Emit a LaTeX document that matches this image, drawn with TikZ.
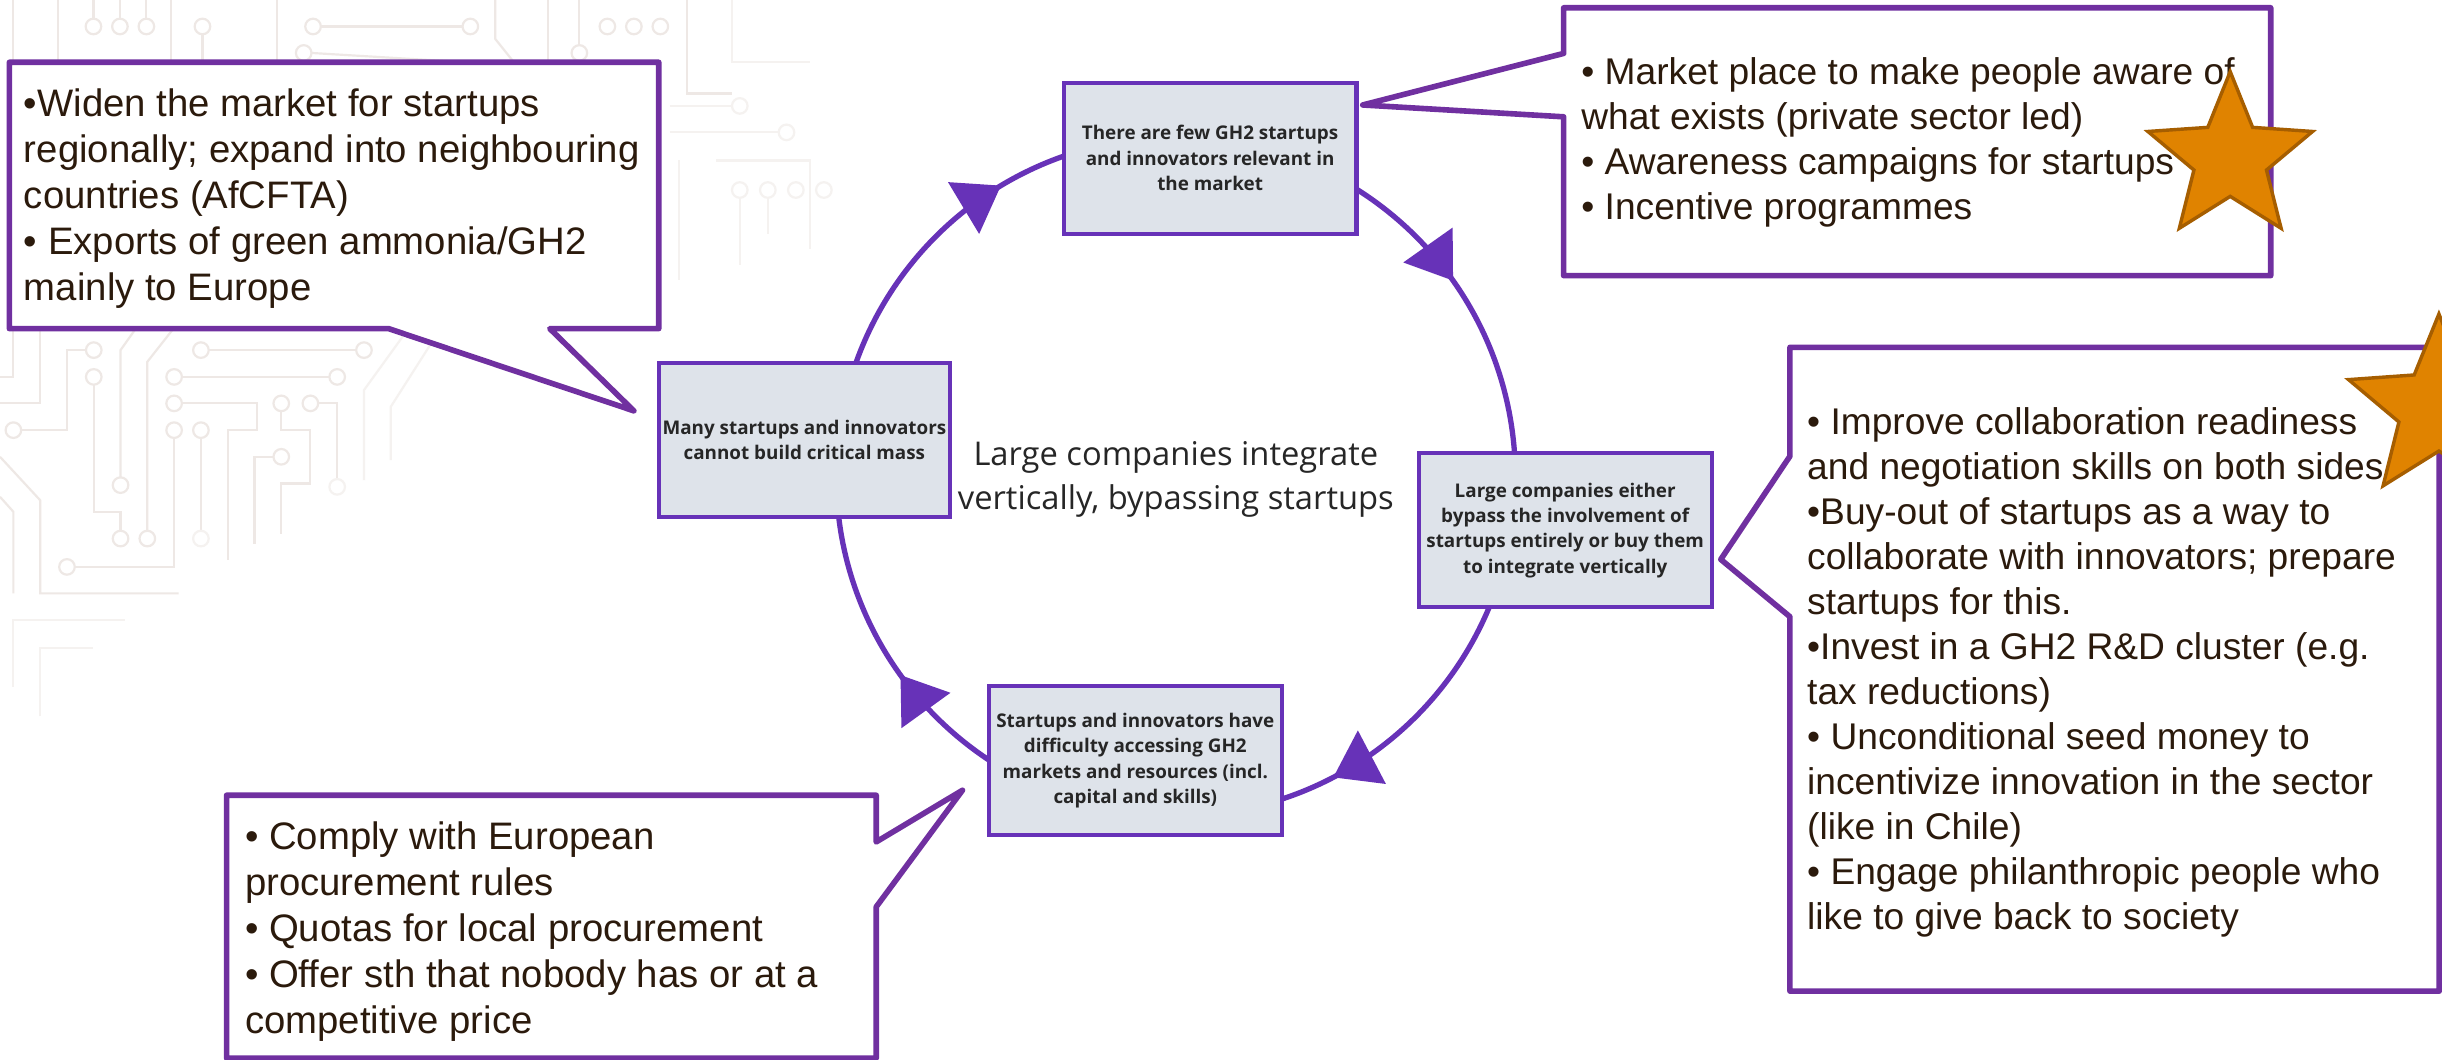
\documentclass[tikz,border=0pt]{standalone}
\usepackage{fontspec}
\setmainfont{Liberation Sans}
\newfontfamily\osans{Open Sans}
\usetikzlibrary{arrows.meta,decorations.markings,calc}
\pgfdeclarelayer{bg}
\pgfsetlayers{bg,main}
\definecolor{cpurple}{HTML}{7030A0}
\definecolor{npurple}{HTML}{6732B8}
\definecolor{nfill}{HTML}{DEE3EA}
\definecolor{txtbrown}{HTML}{2B1A0C}
\definecolor{txtgray}{HTML}{262626}
\definecolor{starfill}{HTML}{E08300}
\definecolor{stardraw}{HTML}{A65E00}
\definecolor{tracec}{HTML}{EEE8E5}
\definecolor{tracef}{HTML}{F5F2F0}
\tikzset{
  problem/.style={draw=npurple, line width=1.3pt, fill=nfill, inner sep=0pt, align=center,
    text=txtgray, font=\osans\bfseries\fontsize{6.05}{8.15}\selectfont},
  callout/.style={draw=cpurple, line width=1.8pt, line join=round, fill=white},
  calltext/.style={anchor=west, inner sep=0pt, align=left, text=txtbrown,
    font=\fontsize{11.93}{14.45}\selectfont},
  bigcalltext/.style={calltext, font=\fontsize{12.3}{14.8}\selectfont},
  cycarc/.style={draw=npurple, line width=1.7pt},
  cyctip/.tip={Triangle[length=14pt,width=19pt]},
  starshape/.style={fill=starfill, draw=stardraw, line width=1.1pt, line join=miter},
  trace/.style={draw=tracec, line width=0.7pt},
  ftrace/.style={draw=tracef, line width=0.7pt},
  pad/.style={draw=tracec, line width=0.7pt, fill=white},
  fpad/.style={draw=tracef, line width=0.7pt, fill=white},
}
\begin{document}
\begin{tikzpicture}[x=0.5pt,y=-0.5pt]
\path[use as bounding box] (0,0) rectangle (1568,680.6);

% ---------- background: faint circuit pattern + cycle arcs ----------
\begin{pgfonlayer}{bg}
\fill[white] (0,0) rectangle (1568,680.6);
% top strip
\draw[trace] (8.6,0) -- (8.6,40);
\draw[trace] (37,0) -- (37,40);
\draw[trace] (60,12) -- (60,0); \draw[trace] (77,12) -- (77,0); \draw[trace] (94,12) -- (94,0);
\draw[pad] (60,17) circle[radius=5]; \draw[pad] (77,17) circle[radius=5]; \draw[pad] (94,17) circle[radius=5];
\draw[trace] (110,0) -- (110,40);
\draw[trace] (130,22) -- (130,40); \draw[pad] (130,17) circle[radius=5];
\draw[trace] (178,0) -- (178,40);
\draw[trace] (206,17) -- (297,17); \draw[pad] (201,17) circle[radius=5]; \draw[pad] (302,17) circle[radius=5];
\draw[trace] (200,34) -- (300,40); \draw[pad] (195,34) circle[radius=5];
\draw[trace] (318,0) -- (318,25) -- (330,40);
\draw[trace] (352,0) -- (352,40);
\draw[trace] (372,0) -- (372,29); \draw[pad] (372,34) circle[radius=5];
\draw[pad] (390,17) circle[radius=5]; \draw[pad] (407,17) circle[radius=5]; \draw[pad] (424,17) circle[radius=5];
\draw[trace] (441,0) -- (441,60) -- (470,60);
\draw[ftrace] (470,0) -- (470,40) -- (520,40);
\draw[ftrace] (430,85) -- (500,85); \draw[fpad] (505,85) circle[radius=5];
\draw[ftrace] (430,68) -- (470,68); \draw[fpad] (475,68) circle[radius=5];
\draw[ftrace] (436,103) -- (436,180);
\draw[ftrace] (460,103) -- (520,103) -- (520,160);
\draw[fpad] (475,122) circle[radius=5]; \draw[fpad] (493,122) circle[radius=5];
\draw[fpad] (511,122) circle[radius=5]; \draw[fpad] (529,122) circle[radius=5];
\draw[ftrace] (475,127) -- (475,170); \draw[ftrace] (493,127) -- (493,150);
% middle-left
\draw[trace] (8.6,150) -- (8.6,242) -- (0,242);
\draw[trace] (25.8,150) -- (25.8,259) -- (0,259);
\draw[trace] (55,224.8) -- (43,224.8) -- (43,276.2) -- (13.6,276.2);
\draw[pad] (60.2,224.8) circle[radius=5]; \draw[pad] (8.6,276.2) circle[radius=5];
\draw[trace] (60.2,247) -- (60.2,328.6) -- (77.4,328.6) -- (77.4,340.8);
\draw[pad] (60.2,242) circle[radius=5]; \draw[pad] (77.4,345.8) circle[radius=5];
\draw[trace] (77.4,306.5) -- (77.4,224.8) -- (95,200);
\draw[pad] (77.4,311.5) circle[radius=5];
\draw[trace] (134,224.8) -- (228.7,224.8);
\draw[pad] (129,224.8) circle[radius=5]; \draw[pad] (233.7,224.8) circle[radius=5];
\draw[trace] (116.8,242) -- (211.5,242);
\draw[pad] (111.8,242) circle[radius=5]; \draw[pad] (216.5,242) circle[radius=5];
\draw[trace] (116.8,259) -- (164.9,259) -- (164.9,276.2) -- (146.2,276.2) -- (146.2,359.7);
\draw[pad] (111.8,259) circle[radius=5];
\draw[trace] (111.8,281.2) -- (111.8,364) -- (48,364);
\draw[pad] (111.8,276.2) circle[radius=5]; \draw[pad] (43,364) circle[radius=5];
\draw[trace] (129,281.2) -- (129,340.8);
\draw[pad] (129,276.2) circle[radius=5]; \draw[ftrace] (129,345.8) circle[radius=5];
\draw[trace] (180.6,264) -- (180.6,276.2) -- (199.3,276.2) -- (199.3,310.5) -- (180.6,310.5) -- (180.6,342.6);
\draw[pad] (180.6,259) circle[radius=5];
\draw[trace] (204.3,259) -- (216.5,259) -- (216.5,307.6);
\draw[pad] (199.3,259) circle[radius=5]; \draw[fpad] (216.5,312.6) circle[radius=5];
\draw[trace] (175.6,293.3) -- (163.4,293.3) -- (163.4,349);
\draw[pad] (180.6,293.3) circle[radius=5];
\draw[trace] (94.6,340.8) -- (94.6,232.3) -- (116.1,205);
\draw[pad] (94.6,345.8) circle[radius=5];
\draw[ftrace] (233.7,308.3) -- (233.7,250.5) -- (266.6,205);
\draw[ftrace] (250.9,295.5) -- (250.9,261.2) -- (286.7,205);
\draw[trace] (0,293.3) -- (25.8,321.2) -- (25.8,381) -- (114.7,381);
\draw[trace] (0,319) -- (8.6,328.6) -- (8.6,381);
\draw[ftrace] (8.6,441) -- (8.6,398.2) -- (80.3,398.2);
\draw[ftrace] (25.8,460) -- (25.8,416) -- (60,416);

% cycle arcs
\coordinate (ctr) at (755,306);
\draw[cycarc, postaction={decorate}, decoration={markings, mark=at position 0.590 with {\arrow{cyctip}}}]
  ($(ctr)+(185.6:218)$) arc[start angle=185.6, end angle=276.1, radius=218];
\draw[cycarc, postaction={decorate}, decoration={markings, mark=at position 0.530 with {\arrow{cyctip}}}]
  ($(ctr)+(276.1:218)$) arc[start angle=276.1, end angle=367.9, radius=218];
\draw[cycarc, postaction={decorate}, decoration={markings, mark=at position 0.604 with {\arrow{cyctip}}}]
  ($(ctr)+(7.9:218)$) arc[start angle=7.9, end angle=98.1, radius=218];
\draw[cycarc, postaction={decorate}, decoration={markings, mark=at position 0.527 with {\arrow{cyctip}}}]
  ($(ctr)+(98.1:218)$) arc[start angle=98.1, end angle=185.6, radius=218];
\end{pgfonlayer}

% ---------- cycle nodes ----------
\node[problem, minimum width=94pt, minimum height=48.5pt] (n1) at (777,101.5)
  {There are few GH2 startups\\and innovators relevant in\\the market};
\node[problem, minimum width=93.5pt, minimum height=49.5pt] (n2) at (516.5,282.5)
  {Many startups and innovators\\cannot build critical mass};
\node[problem, minimum width=94pt, minimum height=49.5pt] (n3) at (1005,340.5)
  {Large companies either\\bypass the involvement of\\startups entirely or buy them\\to integrate vertically};
\node[problem, minimum width=94pt, minimum height=47.7pt] (n4) at (729,488.3)
  {Startups and innovators have\\difficulty accessing GH2\\markets and resources (incl.\\capital and skills)};
\node[inner sep=0pt, align=center, text=txtgray, font=\osans\fontsize{10.5}{14.2}\selectfont] (mid) at (755,308)
  {Large companies integrate\\vertically, bypassing startups};

% ---------- callouts ----------
\draw[callout] (6,40) -- (423,40) -- (423,211) -- (353,211) -- (407,263.8) -- (249.5,211) -- (6,211) -- cycle;
\node[bigcalltext] (tl) at (15,127.5)
  {•Widen the market for startups\\regionally; expand into neighbouring\\countries (AfCFTA)\\• Exports of green ammonia/GH2\\mainly to Europe};

\draw[callout] (1004,5) -- (1458,5) -- (1458,177) -- (1004,177) -- (1004,75) -- (875,67.4) -- (1004,34.3) -- cycle;
\node[calltext] (tt) at (1015,91.5)
  {• Market place to make people aware of\\what exists (private sector led)\\• Awareness campaigns for startups\\• Incentive programmes};

\draw[callout] (1149.3,223) -- (1566.2,223) -- (1566.2,636.4) -- (1149.3,636.4) -- (1149.3,396) -- (1104.9,359.2) -- (1149.3,292.9) -- cycle;
\node[calltext] (tr) at (1160,431.5)
  {• Improve collaboration readiness\\and negotiation skills on both sides\\•Buy-out of startups as a way to\\collaborate with innovators; prepare\\startups for this.\\•Invest in a GH2 R\&D cluster (e.g.\\tax reductions)\\• Unconditional seed money to\\incentivize innovation in the sector\\(like in Chile)\\• Engage philanthropic people who\\like to give back to society};

\draw[callout] (145.5,510.6) -- (562.6,510.6) -- (562.6,540.6) -- (618,507.4) -- (562.6,582.3) -- (562.6,679.5) -- (145.5,679.5) -- cycle;
\node[bigcalltext] (tb) at (157,598)
  {• Comply with European\\procurement rules\\• Quotas for local procurement\\• Offer sth that nobody has or at a\\competitive price};

% ---------- stars ----------
\begin{scope}[shift={(1432,101.6)}]
\draw[starshape] (270:55.6) -- (306:24.5) -- (342:55.6) -- (18:24.5) -- (54:55.6) -- (90:24.5)
  -- (126:55.6) -- (162:24.5) -- (198:55.6) -- (234:24.5) -- cycle;
\end{scope}
\begin{scope}[shift={(1566,262.6)}]
\draw[starshape] (270:61) -- (306:27) -- (342:61) -- (18:27) -- (54:61) -- (90:27)
  -- (126:61) -- (162:27) -- (198:61) -- (234:27) -- cycle;
\end{scope}
\end{tikzpicture}
\end{document}
